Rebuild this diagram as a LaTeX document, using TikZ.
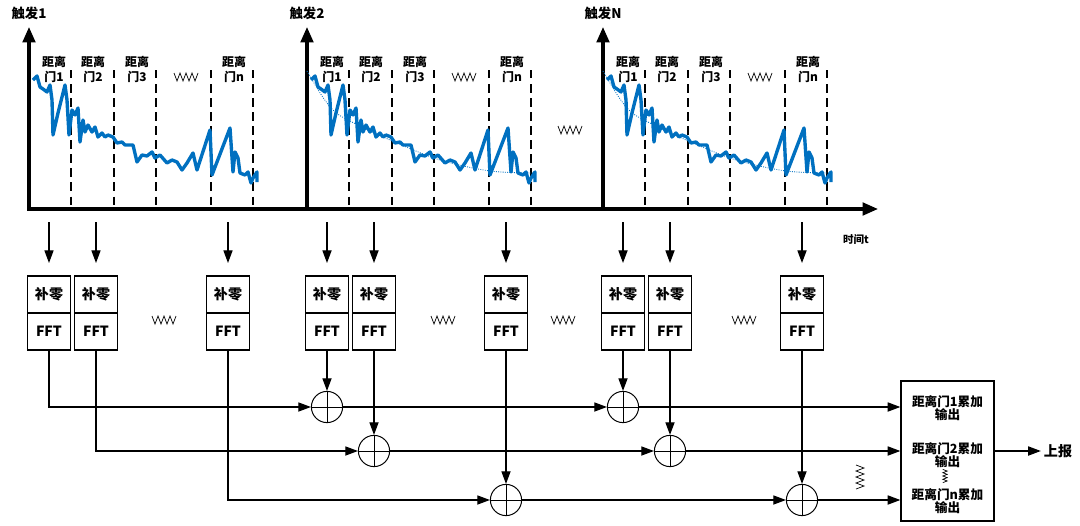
\documentclass[tikz,border=0pt]{standalone}
\usepackage{fontspec}
\setmainfont{Noto Sans CJK SC}
\usetikzlibrary{arrows.meta,positioning}
\definecolor{waveblue}{RGB}{0,112,192}

\begin{document}
\begin{tikzpicture}[x=0.025cm,y=-0.025cm,
  >={Triangle[length=9pt,width=6.5pt]},
  axis/.style={line width=2.2pt,-{Triangle[length=11pt,width=9pt]}},
  gate/.style={line width=0.9pt,dash pattern=on 6pt off 4pt},
  wave/.style={waveblue,line width=2.4pt,line join=round},
  trend/.style={waveblue,densely dotted,line width=0.6pt},
  feed/.style={->,line width=0.9pt,shorten >=0.325cm},
  link/.style={->,line width=0.9pt},
  box/.style={draw,line width=0.9pt,outer sep=0pt,inner sep=0pt,
    minimum width=1.075cm,minimum height=0.925cm,
    font=\fontsize{10}{12}\selectfont\bfseries},
  sum/.style={circle,draw,line width=0.7pt,minimum size=0.78cm,inner sep=0pt,
    path picture={\draw[line width=0.7pt]
      (path picture bounding box.north) -- (path picture bounding box.south)
      (path picture bounding box.west) -- (path picture bounding box.east);}},
  outbox/.style={draw,line width=0.9pt,minimum width=2.325cm,minimum height=3.5cm},
  lbl/.style={font=\fontsize{9.5}{11}\selectfont\bfseries},
  gatelbl/.style={align=center,inner sep=0pt,font=\fontsize{8.5}{10.7}\selectfont\bfseries},
  outlbl/.style={align=center,inner sep=0pt,font=\fontsize{9}{9.4}\selectfont\bfseries},
  zz/.pic={\draw[line width=0.5pt] (-12,-4) -- (-9,4) -- (-6,-4) -- (-3,4) -- (0,-4)
    -- (3,4) -- (6,-4) -- (9,4) -- (12,-4);}
]
\useasboundingbox (0,0) rectangle (1080,526);

% time axis
\coordinate (t0) at (27,209);
\coordinate (tend) at (878,209);
\draw[axis] (t0) -- (tend);
\node[font=\fontsize{7.5}{9}\selectfont\bfseries] (tlab) at (856,239) {时间t};

% trigger panels
\foreach \ax/\p/\name in {29/1/1,307/2/2,603/3/N} {
  \coordinate (y\p) at (\ax,210);
  \coordinate (ytop\p) at (\ax,27);
  \draw[axis] (y\p) -- (ytop\p);
  \node[lbl] (trig\p) at (\ax,13) {触发\name};
  \foreach \dx in {42,85,127,182,224}
    \draw[gate] ({\ax+\dx},70) -- ({\ax+\dx},209);
  \foreach \dx/\g in {25/1,64/2,108/3,205/n}
    \node[gatelbl] (g\p\g) at ({\ax+\dx},69.5) {距离\\门\g};
  \pic at ({\ax+157},77) {zz};
  \draw[wave,shift={(\ax,0)}] plot coordinates {(4,80) (8,76) (11,87) (14,89) (18,92)
    (21,85) (23,100) (24,135) (29,113) (36,85) (38,100) (40,135) (43,110) (46,115)
    (49,108) (51,142) (54,120) (56,132) (59,125) (63,132) (66,127) (69,137) (73,133)
    (76,137) (79,135) (84,137) (88,143) (93,142) (96,145) (104,145) (108,162)
    (113,155) (118,156) (123,152) (126,158) (131,155) (138,163) (143,160) (148,162)
    (153,170) (158,163) (164,153) (168,170) (181,130) (183,175) (201,128) (204,172)
    (206,152) (209,158) (211,173) (216,175) (219,172) (222,183) (224,178) (228,172)
    (228,182)};
}
\foreach \ax in {307,603}
  \draw[trend,shift={(\ax,0)}] plot[smooth] coordinates {(0,71) (15,96) (27,111)
    (41,120) (83,140) (133,160) (183,171) (228,173)};
\pic at (570,130) {zz};

% zero padding + FFT
\foreach \ax/\p in {29/1,307/2,603/3}
  \foreach \dx/\g in {20/1,67/2,199/n} {
    \node[box] (z\p\g) at ({\ax+\dx},294.5) {补零};
    \node[box,below=0pt of z\p\g] (f\p\g) {FFT};
    \coordinate (a\p\g) at ({\ax+\dx},222);
    \draw[feed] (a\p\g) -- (z\p\g);
  }
\foreach \x in {164,443,563,744}
  \pic at (\x,320) {zz};

% accumulation
\coordinate (r1) at (0,407);
\coordinate (r2) at (0,451);
\coordinate (r3) at (0,500);
\node[sum] (s21) at (f21 |- r1) {};
\node[sum] (s31) at (f31 |- r1) {};
\node[sum] (s22) at (f22 |- r2) {};
\node[sum] (s32) at (f32 |- r2) {};
\node[sum] (s2n) at (f2n |- r3) {};
\node[sum] (s3n) at (f3n |- r3) {};

\node[outbox] (out) at (947.5,451) {};
\node[outlbl] (o1) at (947.5,408.5) {距离门1累加\\输出};
\node[outlbl] (o2) at (947.5,455) {距离门2累加\\输出};
\node[outlbl] (on) at (947.5,501) {距离门n累加\\输出};
\pic[rotate=90,scale=0.55] at (945,476) {zz};
\pic[rotate=90] at (860,477) {zz};

\foreach \g in {1,2,n} {
  \draw[link] (f1\g.south) |- (s2\g.west);
  \draw[link] (f2\g) -- (s2\g.north);
  \draw[link] (f3\g) -- (s3\g.north);
  \draw[link] (s2\g) -- (s3\g);
  \draw[link] (s3\g) -- (s3\g -| out.west);
}

\node[inner sep=2pt,font=\fontsize{10}{12}\selectfont\bfseries] (rep) at (1058,451) {上报};
\draw[link] (out) -- (rep);
\end{tikzpicture}
\end{document}
